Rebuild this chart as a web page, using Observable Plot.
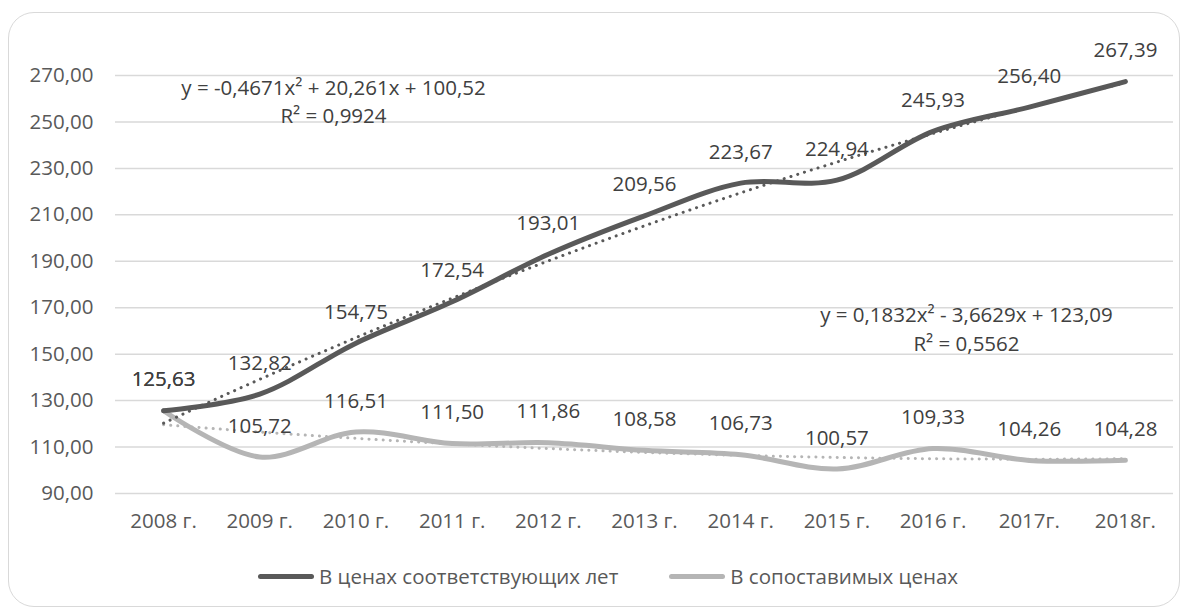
<!DOCTYPE html>
<html>
<head>
<meta charset="utf-8">
<script src="https://cdn.jsdelivr.net/npm/d3@7"></script>
<script src="https://cdn.jsdelivr.net/npm/@observablehq/plot@0.6"></script>
<style>
  html, body { margin: 0; padding: 0; background: #fff; }
  body { width: 1186px; height: 608px; position: relative; overflow: hidden; font-family: "Open Sans", sans-serif; color: #595959; }
  #frame { position: absolute; left: 8px; top: 12px; width: 1172px; height: 595px; border: 1.5px solid #d9d9d9; border-radius: 26px; box-sizing: border-box; }
  #chart { position: absolute; left: 0; top: 0; }
  #legend { position: absolute; left: 0; width: 1186px; top: 562px; display: flex; justify-content: center; align-items: center; font-size: 20.5px; color: #595959; gap: 51px; padding-left: 30px; box-sizing: border-box; }
  .item { display: flex; align-items: center; }
  .sw { width: 56px; height: 5px; border-radius: 3px; margin-right: 5px; }
</style>
</head>
<body>
<div id="frame"></div>
<div id="chart"></div>
<div id="legend"></div>
<script>
// ---- data ----
const years = ["2008 г.", "2009 г.", "2010 г.", "2011 г.", "2012 г.", "2013 г.", "2014 г.", "2015 г.", "2016 г.", "2017г.", "2018г."];
const currentPrices = [125.63, 132.82, 154.75, 172.54, 193.01, 209.56, 223.67, 224.94, 245.93, 256.40, 267.39];
const comparablePrices = [125.63, 105.72, 116.51, 111.50, 111.86, 108.58, 106.73, 100.57, 109.33, 104.26, 104.28];
const seriesNames = ["В ценах соответствующих лет", "В сопоставимых ценах"];
const trendCoefCurrent = [-0.4671, 20.261, 100.52];   // a, b, c  (y = a x² + b x + c)
const trendCoefComparable = [0.1832, -3.6629, 123.09];
const trendLabelCurrent = "y = -0,4671x² + 20,261x + 100,52\nR² = 0,9924";
const trendLabelComparable = "y = 0,1832x² - 3,6629x + 123,09\nR² = 0,5562";
const yTicks = [90, 110, 130, 150, 170, 190, 210, 230, 250, 270];

// ---- derived tables ----
const dark = "#595959", light = "#b5b5b5";
const FS = 20.5;
const rowsA = currentPrices.map((v, i) => ({x: i + 1, v}));
const rowsB = comparablePrices.map((v, i) => ({x: i + 1, v}));
function trend(coef) {
  const pts = [];
  for (let k = 0; k <= 200; k++) {
    const x = 1 + k * (years.length - 1) / 200;
    pts.push({x, v: coef[0] * x * x + coef[1] * x + coef[2]});
  }
  return pts;
}
const fmt = v => v.toFixed(2).replace(".", ",");

const chart = Plot.plot({
  width: 1186,
  height: 545,
  marginLeft: 115,
  marginRight: 13,
  marginTop: 75,
  marginBottom: 52,
  style: {fontFamily: "'Open Sans', sans-serif", fontSize: FS + "px", color: "#595959", background: "transparent"},
  x: {domain: [0.5, years.length + 0.5], label: null},
  y: {domain: [90, 270], label: null},
  marks: [
    Plot.gridY(yTicks, {stroke: "#d9d9d9", strokeOpacity: 1, strokeWidth: 1.5}),
    Plot.axisX({tickSize: 0, tickPadding: 20, fill: "#595959", fontSize: FS, ticks: d3.range(1, years.length + 1), tickFormat: d => years[d - 1], label: null}),
    Plot.axisY({tickSize: 0, tickPadding: 22, fill: "#595959", fontSize: FS, ticks: yTicks, tickFormat: d => d.toFixed(2).replace(".", ","), label: null}),
    Plot.line(rowsB, {x: "x", y: "v", stroke: light, strokeWidth: 5, curve: "catmull-rom", strokeLinecap: "round"}),
    Plot.line(rowsA, {x: "x", y: "v", stroke: dark, strokeWidth: 5, curve: "catmull-rom", strokeLinecap: "round"}),
    Plot.line(trend(trendCoefComparable), {x: "x", y: "v", stroke: light, strokeWidth: 3, strokeDasharray: "0.1 7", strokeLinecap: "round"}),
    Plot.line(trend(trendCoefCurrent), {x: "x", y: "v", stroke: dark, strokeWidth: 3, strokeDasharray: "0.1 7", strokeLinecap: "round"}),
    Plot.text(rowsA, {x: "x", y: "v", text: d => fmt(d.v), dy: -31, fill: "#404040", fontSize: FS}),
    Plot.text(rowsB, {x: "x", y: "v", text: d => fmt(d.v), dy: -31, fill: "#404040", fontSize: FS}),
    Plot.text([trendLabelCurrent], {frameAnchor: "top-left", dx: 218, dy: 24.5, text: d => d, textAnchor: "middle", lineAnchor: "middle", lineHeight: 1.37, fill: "#404040", fontSize: FS}),
    Plot.text([trendLabelComparable], {frameAnchor: "top-left", dx: 851, dy: 252, text: d => d, textAnchor: "middle", lineAnchor: "middle", lineHeight: 1.37, fill: "#404040", fontSize: FS})
  ]
});
document.getElementById("chart").appendChild(chart);

const legend = document.getElementById("legend");
[[seriesNames[0], dark], [seriesNames[1], light]].forEach(([name, color]) => {
  const it = document.createElement("div");
  it.className = "item";
  it.innerHTML = `<div class="sw" style="background:${color}"></div><span>${name}</span>`;
  legend.appendChild(it);
});
</script>
</body>
</html>
